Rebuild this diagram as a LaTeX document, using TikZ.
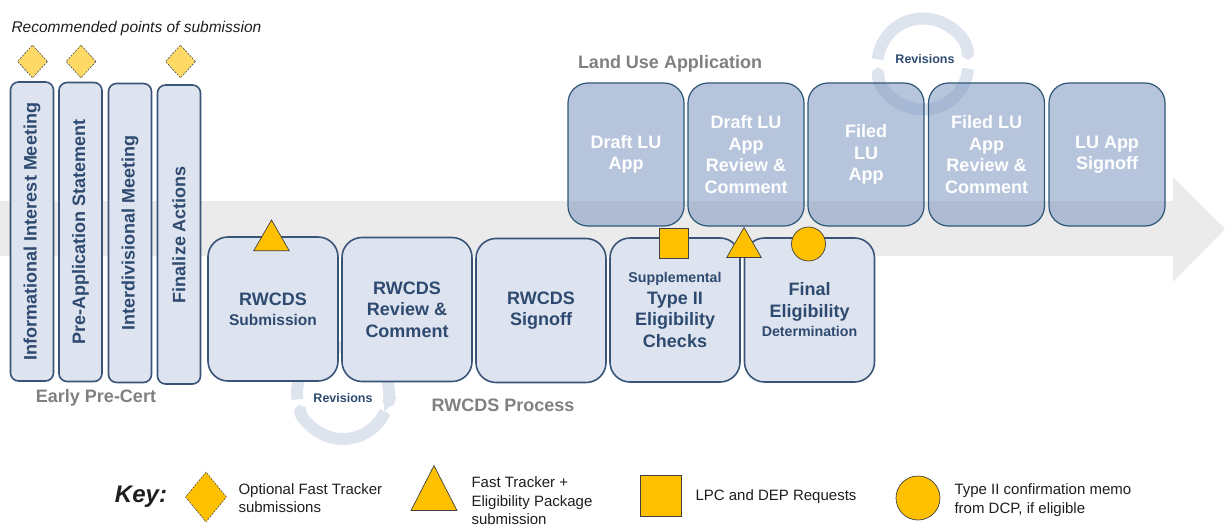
\documentclass[tikz,border=0pt]{standalone}
\usepackage{fontspec}
\setmainfont{Liberation Sans}
\usetikzlibrary{shapes.geometric,arrows.meta}

\definecolor{navy}{HTML}{2E4A70}
\definecolor{boxfill}{HTML}{DDE4EF}
\definecolor{boxline}{HTML}{3A5478}
\definecolor{lufill}{HTML}{7C95BF}
\definecolor{luline}{HTML}{2D5778}
\definecolor{gold}{HTML}{FFC000}
\definecolor{lightgold}{HTML}{FFD966}
\definecolor{band}{HTML}{EBEBEB}
\definecolor{ring}{HTML}{DDE4EE}
\definecolor{labelgray}{HTML}{808080}
\definecolor{keytext}{HTML}{1E1E1E}

\tikzset{
  stage/.style={draw=boxline, line width=1.6pt, fill=boxfill, rounded corners=20pt,
    minimum width=130pt, minimum height=144pt, align=center, text=navy, inner sep=0pt,
    font=\bfseries\fontsize{18}{21.5}\selectfont},
  early/.style={draw=boxline, line width=1.6pt, fill=boxfill, rounded corners=8pt,
    rotate=90, minimum width=299pt, minimum height=43pt, text=navy, inner sep=0pt,
    font=\bfseries\fontsize{18}{21.5}\selectfont},
  lubox/.style={draw=luline, line width=1.2pt, fill=lufill, fill opacity=0.55,
    text opacity=1, text=white, rounded corners=20pt, minimum width=116pt,
    minimum height=143pt, align=center, inner sep=0pt,
    font=\bfseries\fontsize{18}{21.5}\selectfont},
  grouplabel/.style={text=labelgray, font=\bfseries\fontsize{18}{21.5}\selectfont},
  revlabel/.style={text=navy, font=\bfseries\fontsize{12.5}{15}\selectfont},
  ringarc/.style={draw=ring, line width=12pt, -{Triangle Cap[length=4pt]}},
  goldmark/.style={fill=gold, draw=black!75, line width=0.7pt, inner sep=0pt},
  optmark/.style={diamond, fill=lightgold, draw=black!70, line width=0.6pt,
    dash pattern=on 2pt off 1.2pt, inner sep=0pt, minimum width=30pt, minimum height=33pt},
  tri/.style={goldmark, regular polygon, regular polygon sides=3},
  keytxt/.style={anchor=west, align=left, text=keytext, font=\fontsize{15}{18.5}\selectfont},
}

\begin{document}
\begin{tikzpicture}[x=1pt, y=-1pt]
\useasboundingbox (0,0) rectangle (1225,527);

% the big grey arrow behind everything
\fill[band] (0,201) -- (1173,201) -- (1173,177) -- (1225,229) -- (1173,282)
  -- (1173,256) -- (0,256) -- cycle;

% revision loops
\draw[ringarc] (343,393) ++(172:46) arc[start angle=172, end angle=378, radius=46];
\draw[ringarc] (343,393) ++(24:46) arc[start angle=24, end angle=165, radius=46];
\draw[ringarc] (923,64) ++(186:45.5) arc[start angle=186, end angle=355, radius=45.5];
\draw[ringarc] (923,64) ++(6:45.5) arc[start angle=6, end angle=176, radius=45.5];
\node[revlabel] (revlow) at (343,398) {Revisions};
\node[revlabel] (revup) at (925,59) {Revisions};

% early pre-cert
\node[anchor=west, text=keytext, font=\itshape\fontsize{15.5}{18}\selectfont]
  (recpts) at (8,28) {Recommended points of submission};
\node[early] (iim) at (32,231.5) {Informational Interest Meeting};
\node[early] (pas) at (80.5,232) {Pre-Application Statement};
\node[early] (idm) at (130,233) {Interdivisional Meeting};
\node[early] (fin) at (179,234.5) {Finalize Actions};
\node[optmark] (optA) at (32.5,61.5) {};
\node[optmark] (optB) at (81,61.5) {};
\node[optmark] (optC) at (180.5,61.5) {};
\node[grouplabel] (earlylbl) at (96,398) {Early Pre-Cert};

% RWCDS process
\node[stage] (sub) at (273,309) {RWCDS\\[-1.5pt]{\fontsize{15.5}{18}\selectfont Submission}};
\node[stage] (rev) at (407,309.5) {RWCDS\\Review \&\\Comment};
\node[stage] (sign) at (541,310.5) {RWCDS\\Signoff};
\node[stage] (supp) at (675,310) {{\fontsize{14.2}{17}\selectfont Supplemental}\\Type II\\Eligibility\\Checks};
\node[stage] (final) at (809.5,310) {Final\\Eligibility\\[-2pt]{\fontsize{14.2}{17}\selectfont Determination}};
\node[grouplabel] (rwlbl) at (503,405) {RWCDS Process};

% land use application
\node[grouplabel] (lulbl) at (670,64) {Land Use Application};
\node[lubox] (draft) at (626,154.5) {Draft LU\\App};
\node[lubox] (draftrev) at (746,154.5) {Draft LU\\App\\Review \&\\Comment};
\node[lubox] (filed) at (866,154.5) {Filed\\LU\\App};
\node[lubox] (filedrev) at (986.5,154.5) {Filed LU\\App\\Review \&\\Comment};
\node[lubox] (signoff) at (1107,154.5) {LU App\\Signoff};

% submission markers
\node[tri, minimum size=41pt] (subtri) at (271.5,240.5) {};
\node[goldmark, rectangle, minimum size=29.5pt] (lpc) at (674,243.5) {};
\node[tri, minimum size=40pt] (midtri) at (744,247.5) {};
\node[goldmark, circle, minimum size=34pt] (memo) at (808.5,244) {};

% key
\node[font=\bfseries\itshape\fontsize{24}{28}\selectfont, text=keytext] (key) at (141,497) {Key:};
\node[optmark, fill=gold, minimum width=41pt, minimum height=50pt] (keyopt) at (206,497) {};
\node[keytxt] (keyopttxt) at (235,498) {Optional Fast Tracker\\submissions};
\node[goldmark, isosceles triangle, isosceles triangle stretches, shape border rotate=90,
  minimum width=46pt, minimum height=45pt] (keytri) at (434,496.5) {};
\node[keytxt] (keytritxt) at (468,501) {Fast Tracker +\\Eligibility Package\\submission};
\node[goldmark, rectangle, minimum size=41pt] (keysq) at (661,496) {};
\node[keytxt] (keysqtxt) at (692,497) {LPC and DEP Requests};
\node[goldmark, circle, minimum size=44pt] (keydot) at (918,498) {};
\node[keytxt] (keydottxt) at (951,500) {Type II confirmation memo\\from DCP, if eligible};
\end{tikzpicture}
\end{document}
